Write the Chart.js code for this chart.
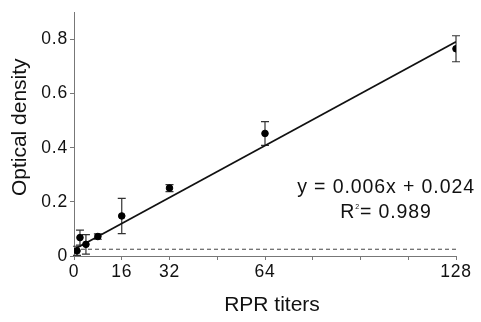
<!DOCTYPE html>
<html><head><meta charset="utf-8">
<script src="https://cdn.jsdelivr.net/npm/chart.js@4/dist/chart.umd.min.js"></script>
<style>html,body{margin:0;padding:0;background:#fff;overflow:hidden}#wrap{width:481px;height:322px}</style>
</head><body><div id="wrap"><canvas id="c" width="481" height="322"></canvas></div>
<script>
// ---- data ----
const titers = [1, 2, 4, 8, 16, 32, 64, 128];
const odMean = [0.019, 0.068, 0.043, 0.072, 0.148, 0.251, 0.453, 0.766];
const odErr  = [0.017, 0.028, 0.036, 0.010, 0.065, 0.013, 0.044, 0.048];
const fitX = [0, 128];
const fitY = [0.024, 0.792];
const cutoffX = [0, 128];
const cutoffY = [0.025, 0.025];
const xTicks = [0, 16, 32, 48, 64, 80, 96, 112, 128];
const xLabels = [0, 16, 32, 64, 128];
const yTicks = [0, 0.2, 0.4, 0.6, 0.8];
const xTitle = 'RPR titers';
const yTitle = 'Optical density';
const eqLine1 = 'y = 0.006x + 0.024';
const eqLine2 = ['R', '2', '= 0.989'];

const FONT = '"Liberation Sans", Arial, Helvetica, sans-serif';
const toXY = (xs, ys) => xs.map((x, i) => ({x, y: ys[i]}));

const errorBars = {
  id: 'errorBars',
  beforeDatasetsDraw(chart) {
    const {ctx, scales: {x, y}} = chart;
    ctx.save();
    ctx.strokeStyle = '#333';
    ctx.lineWidth = 1.2;
    titers.forEach((t, i) => {
      const px = x.getPixelForValue(t);
      const top = y.getPixelForValue(odMean[i] + odErr[i]);
      const bot = y.getPixelForValue(Math.max(0, odMean[i] - odErr[i]));
      ctx.beginPath();
      ctx.moveTo(px, top); ctx.lineTo(px, bot);
      ctx.moveTo(px - 4, top); ctx.lineTo(px + 4, top);
      ctx.moveTo(px - 4, bot); ctx.lineTo(px + 4, bot);
      ctx.stroke();
    });
    ctx.restore();
  }
};

const textPlugin = {
  id: 'texts',
  beforeDraw(chart) {
    if ('letterSpacing' in chart.ctx) chart.ctx.letterSpacing = '0.8px';
  },
  afterDraw(chart) {
    const ctx = chart.ctx;
    const {x, y} = chart.scales;
    ctx.save();
    if ('letterSpacing' in ctx) ctx.letterSpacing = '0px';
    ctx.fillStyle = '#111';
    ctx.font = '21px ' + FONT;
    ctx.textAlign = 'center';
    ctx.textBaseline = 'middle';
    // axis titles
    ctx.fillText(xTitle, (x.left + x.right) / 2 + 7, 305);
    ctx.save();
    ctx.translate(20, (y.top + y.bottom) / 2 - 7);
    ctx.rotate(-Math.PI / 2);
    ctx.fillText(yTitle, 0, 0);
    ctx.restore();
    // equation
    if ('letterSpacing' in ctx) ctx.letterSpacing = '0.9px';
    ctx.font = '19.5px ' + FONT;
    ctx.textBaseline = 'alphabetic';
    ctx.textAlign = 'center';
    const cx = 386;
    ctx.fillText(eqLine1, cx, 193);
    // R^2 line
    ctx.textAlign = 'left';
    const wR = ctx.measureText(eqLine2[0]).width;
    ctx.font = '7px ' + FONT;
    const w2 = ctx.measureText(eqLine2[1]).width;
    ctx.font = '19.5px ' + FONT;
    const wRest = ctx.measureText(eqLine2[2]).width;
    let sx = cx - (wR + w2 + wRest) / 2;
    ctx.fillText(eqLine2[0], sx, 218);
    sx += wR;
    ctx.font = '7px ' + FONT;
    ctx.fillText(eqLine2[1], sx, 209);
    sx += w2;
    ctx.font = '19.5px ' + FONT;
    ctx.fillText(eqLine2[2], sx, 218);
    ctx.restore();
  }
};

new Chart(document.getElementById('c'), {
  type: 'scatter',
  data: {
    datasets: [
      {
        label: 'Cut-off',
        type: 'line',
        data: toXY(cutoffX, cutoffY),
        borderColor: '#444',
        borderWidth: 1,
        borderDash: [4, 3],
        pointRadius: 0,
        fill: false,
        order: 3
      },
      {
        label: 'Fit',
        type: 'line',
        data: toXY(fitX, fitY),
        borderColor: '#111',
        borderWidth: 1.6,
        pointRadius: 0,
        fill: false,
        order: 2
      },
      {
        label: 'OD',
        data: toXY(titers, odMean),
        backgroundColor: '#000',
        borderColor: '#000',
        pointRadius: 3.3,
        order: 1
      }
    ]
  },
  options: {
    responsive: false,
    animation: false,
    layout: {padding: {left: 0, right: 25, top: 6, bottom: 0}},
    plugins: {legend: {display: false}, tooltip: {enabled: false}},
    scales: {
      x: {
        type: 'linear', min: 0, max: 128,
        afterFit(s) { s.height = 66; },
        afterBuildTicks(s) { s.ticks = xTicks.map(v => ({value: v})); },
        ticks: {
          autoSkip: false, maxRotation: 0, padding: 2, color: '#111',
          font: {family: FONT, size: 17.5},
          callback: v => xLabels.includes(v) ? String(v) : ''
        },
        grid: {drawOnChartArea: false, drawTicks: true, tickLength: 4, color: '#777'},
        border: {color: '#777', width: 1}
      },
      y: {
        type: 'linear', min: 0, max: 0.9,
        afterFit(s) { s.width = 74; },
        afterBuildTicks(s) { s.ticks = yTicks.map(v => ({value: v})); },
        ticks: {
          padding: 2, color: '#111',
          font: {family: FONT, size: 17.5},
          callback: v => v === 0 ? '0' : v.toFixed(1)
        },
        grid: {drawOnChartArea: false, drawTicks: true, tickLength: 4, color: '#777'},
        border: {color: '#777', width: 1}
      }
    }
  },
  plugins: [errorBars, textPlugin]
});
</script>
</body></html>
